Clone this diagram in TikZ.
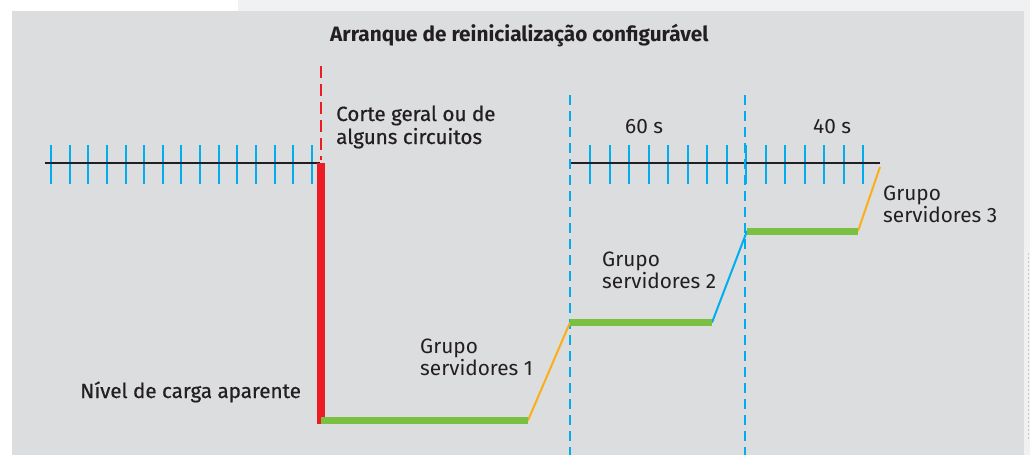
\documentclass[tikz,border=0pt]{standalone}
\usepackage{fontspec}
\setmainfont{Fira Sans}
\definecolor{panel}{HTML}{DCDDDF}
\definecolor{pale}{HTML}{F0F1F3}
\definecolor{tick}{HTML}{00AEEF}
\definecolor{cut}{HTML}{ED1C24}
\definecolor{lvl}{HTML}{7AC143}
\definecolor{ramp}{HTML}{FBAE17}
\definecolor{ink}{HTML}{231F20}
\tikzset{
  lbl/.style={anchor=base west, inner sep=0pt, text=ink, font=\fontsize{20.8}{24}\selectfont},
  medlbl/.style={lbl, font=\fontsize{20.6}{24}\selectfont\addfontfeatures{FakeBold=0.6}},
  ticks/.style={tick, line width=2pt},
  axis/.style={ink, line width=1.5pt},
  vdash/.style={tick, line width=2.6pt, dash pattern=on 10pt off 6pt},
  level/.style={lvl, line width=7pt},
  rampline/.style={line width=2pt},
}
\begin{document}
\begin{tikzpicture}[x=1pt,y=-1pt]
\useasboundingbox (0,0) rectangle (1030,455);
% background
\fill[white] (0,0) rectangle (1030,455);
\fill[pale] (238,0) rectangle (1030,11);
\fill[pale] (1024,0) rectangle (1030,455);
\draw[black!20, line width=1pt, dash pattern=on 2pt off 2pt] (1028.5,253) -- (1028.5,440);
\fill[panel] (12,11) rectangle (1024,455);

% title
\node[lbl, font=\fontsize{20.8}{24}\selectfont\bfseries] (title) at (330,41) {Arranque de reinicialização configurável};

% timeline 1
\foreach \i in {0,...,14} { \draw[ticks] ({51+\i*18.64},145) -- ({51+\i*18.64},184); }
\coordinate (a1) at (45,163);
\coordinate (a2) at (320,163);
\draw[axis] (a1) -- (a2);

% timeline 2
\foreach \i in {0,...,14} { \draw[ticks] ({590+\i*19.5},145) -- ({590+\i*19.5},184); }
\coordinate (b1) at (571,163);
\coordinate (b2) at (880,163);
\draw[axis] (b1) -- (b2);

% blue dashed lines
\coordinate (d1t) at (570,95); \coordinate (d1b) at (570,455);
\coordinate (d2t) at (745,95); \coordinate (d2b) at (745,455);
\draw[vdash] (d1t) -- (d1b);
\draw[vdash] (d2t) -- (d2b);

% red cut
\coordinate (rt) at (321,66); \coordinate (rm) at (321,160);
\draw[cut, line width=2.2pt, dash pattern=on 12pt off 6pt] (rt) -- (rm);
\fill[cut] (317,163) rectangle (325,424);

% levels
\coordinate (g1a) at (321,420.5); \coordinate (g1b) at (528,420.5);
\coordinate (g2a) at (570,322.5); \coordinate (g2b) at (712,322.5);
\coordinate (g3a) at (747,231); \coordinate (g3b) at (858,231);
\coordinate (top) at (880,167);
\draw[ramp, rampline] (g1b) -- (g2a);
\draw[tick, rampline] (g2b) -- (747,231);
\draw[ramp, rampline] (g3b) -- (top);
\draw[level] (g1a) -- (g1b);
\draw[level] (g2a) -- (g2b);
\draw[level] (g3a) -- (g3b);

% labels
\node[medlbl] (cut1) at (336,121) {Corte geral ou de};
\node[medlbl] (cut2) at (336,144) {alguns circuitos};
\node[medlbl] (nivel) at (80,398) {Nível de carga aparente};
\node[lbl] (s60) at (625,133) {60 s};
\node[lbl] (s40) at (813,133) {40 s};
\node[lbl] (g1l1) at (420,353) {Grupo};
\node[lbl] (g1l2) at (420,375) {servidores 1};
\node[lbl] (g2l1) at (602,266) {Grupo};
\node[lbl] (g2l2) at (602,288) {servidores 2};
\node[lbl] (g3l1) at (883,200) {Grupo};
\node[lbl] (g3l2) at (883,222) {servidores 3};
\end{tikzpicture}
\end{document}
